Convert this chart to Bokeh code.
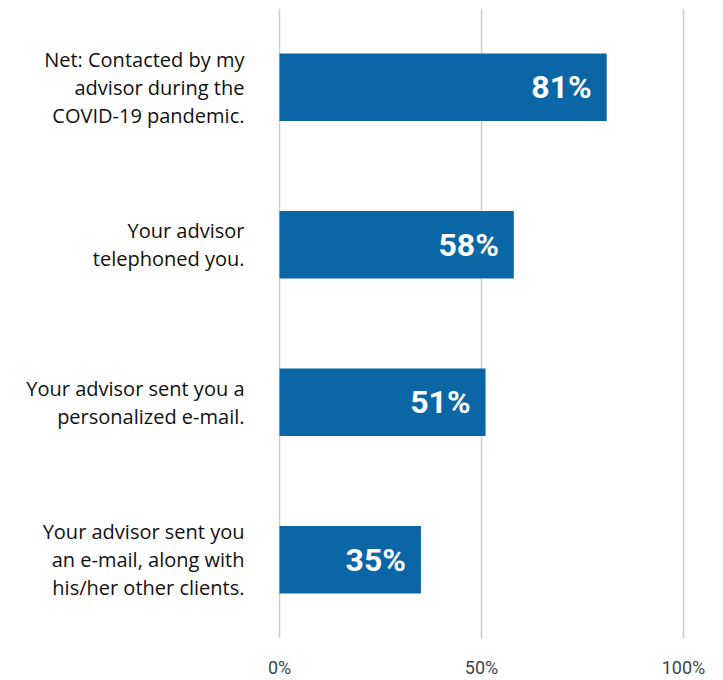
from bokeh.plotting import figure
from bokeh.models import ColumnDataSource, FixedTicker, FactorRange
from bokeh.core.properties import value
from bokeh.embed import file_html
from bokeh.resources import INLINE

categories = [
    "Net: Contacted by my\nadvisor during the\nCOVID-19 pandemic.",
    "Your advisor\ntelephoned you.",
    "Your advisor sent you a\npersonalized e-mail.",
    "Your advisor sent you\nan e-mail, along with\nhis/her other clients.",
]
values = [81, 58, 51, 35]
labels = ["81%", "58%", "51%", "35%"]
x_ticks = [0, 50, 100]
x_tick_labels = {0: "0%", 50: "50%", 100: "100%"}

src = ColumnDataSource(dict(cat=categories, val=values, lab=labels))

p = figure(
    width=723, height=680,
    y_range=FactorRange(factors=list(reversed(categories))),
    x_range=(-1, 101),
    output_backend="svg", toolbar_location=None,
    min_border_left=275, min_border_right=36, min_border_top=8, min_border_bottom=36,
)
p.outline_line_color = None
p.background_fill_color = "white"

p.hbar(y="cat", right="val", left=0, height=0.427, source=src,
       fill_color="#0b66a6", line_color=None)

p.text(x="val", y="cat", text="lab", source=src, x_offset=-15,
       text_align="right", text_baseline="middle",
       text_font=value("Roboto"), text_font_style="bold",
       text_font_size="32px", text_color="white")

p.xaxis.ticker = FixedTicker(ticks=x_ticks)
p.xaxis.major_label_overrides = x_tick_labels
p.xaxis.axis_line_color = None
p.xaxis.major_tick_line_color = None
p.xaxis.minor_tick_line_color = None
p.xaxis.major_label_standoff = 12
p.xaxis.major_label_text_font = "Roboto"
p.xaxis.major_label_text_font_size = "18px"
p.xaxis.major_label_text_color = "#3a4652"

p.yaxis.axis_line_color = None
p.yaxis.major_tick_line_color = None
p.yaxis.minor_tick_line_color = None
p.yaxis.major_label_standoff = 25
p.yaxis.major_label_text_font = "Open Sans"
p.yaxis.major_label_text_font_size = "20px"
p.yaxis.major_label_text_color = "#111111"
p.yaxis.major_label_text_line_height = 1.03

p.ygrid.grid_line_color = None
p.xgrid.ticker = FixedTicker(ticks=x_ticks)
p.xgrid.grid_line_color = "#cccccc"
p.xgrid.grid_line_width = 1.5

open("out.html", "w").write(file_html(p, INLINE))
